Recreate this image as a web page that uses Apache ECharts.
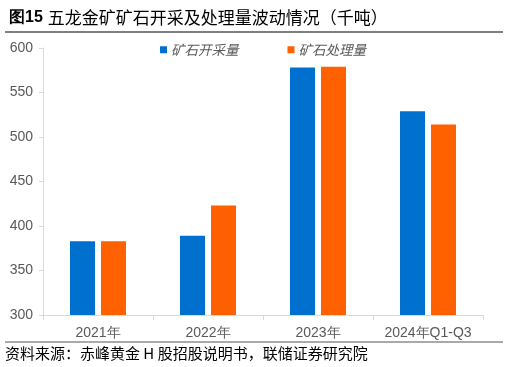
<!DOCTYPE html>
<html>
<head>
<meta charset="utf-8">
<script src="https://cdn.jsdelivr.net/npm/echarts@6/dist/echarts.min.js"></script>
<style>
html,body{margin:0;padding:0;background:#fff;}
#main{width:509px;height:367px;}
</style>
</head>
<body>
<div id="main"></div>
<script>
// 年份
var years=['2021年','2022年','2023年','2024年Q1-Q3'];
// 矿石开采量(千吨)
var mining=[383,389,578,529];
// 矿石处理量(千吨)
var processing=[383,423,579,514];
var yTicks=[300,350,400,450,500,550,600];

var app=echarts.init(document.getElementById('main'));
var font='"Noto Sans CJK SC", sans-serif';
var numFont='"Liberation Sans", Arial, sans-serif';
var option={
    backgroundColor:'#fff',
    animation:false,
    title:{
        text:'{b|图15} {n|五龙金矿矿石开采及处理量波动情况（千吨）}',
        left:4,
        top:4,
        textStyle:{
            rich:{
                b:{color:'#000',fontSize:16,fontWeight:'bold',fontFamily:numFont},
                n:{color:'#000',fontSize:17,fontWeight:'normal',fontFamily:font}
            }
        }
    },
    legend:{
        top:38,
        left:155,
        itemWidth:7,
        itemHeight:7,
        itemGap:49,
        icon:'rect',
        textStyle:{color:'#595959',fontSize:13.5,fontFamily:font,fontStyle:'italic',padding:[0,0,0,-1]},
        data:['矿石开采量','矿石处理量']
    },
    grid:{left:43,right:26,top:48,bottom:52,containLabel:false},
    xAxis:{
        type:'category',
        data:years,
        axisLine:{lineStyle:{color:'#d9d9d9'}},
        axisTick:{show:true,lineStyle:{color:'#d9d9d9'},length:5},
        axisLabel:{color:'#595959',fontSize:14,fontFamily:numFont,margin:11,interval:0}
    },
    yAxis:{
        type:'value',
        min:yTicks[0],
        max:yTicks[yTicks.length-1],
        interval:50,
        axisLine:{show:true,lineStyle:{color:'#d9d9d9'}},
        axisTick:{show:true,lineStyle:{color:'#d9d9d9'},length:4},
        splitLine:{show:false},
        axisLabel:{color:'#595959',fontSize:14,fontFamily:numFont,margin:10}
    },
    series:[{
        name:'矿石开采量',
        type:'bar',
        data:mining,
        barWidth:25,
        barGap:'24%',
        itemStyle:{color:'#0070CE'}
    },{
        name:'矿石处理量',
        type:'bar',
        data:processing,
        barWidth:25,
        itemStyle:{color:'#FF6100'}
    }],
    graphic:[{
        type:'line',
        shape:{x1:5,y1:32,x2:503,y2:32},
        style:{stroke:'#000',lineWidth:1.2}
    },{
        type:'line',
        shape:{x1:5,y1:342,x2:503,y2:342},
        style:{stroke:'#555',lineWidth:1}
    },{
        type:'text',
        left:5,
        top:346,
        style:{text:'资料来源：赤峰黄金 H 股招股说明书，联储证券研究院',fill:'#000',font:'15px "Noto Sans CJK SC", sans-serif'}
    }]
};
app.setOption(option);
</script>
</body>
</html>
